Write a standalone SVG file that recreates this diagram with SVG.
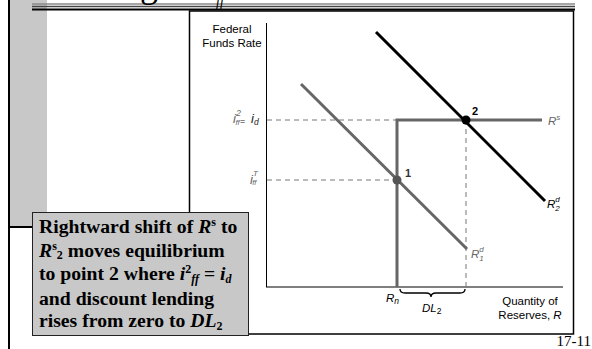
<svg xmlns="http://www.w3.org/2000/svg" width="592" height="349" viewBox="0 0 592 349">
<style>
.sans{font-family:"Liberation Sans",Arial,sans-serif;}
.serif{font-family:"Liberation Serif","Times New Roman",serif;}
.lab{font-size:11.5px;fill:#000;}
.glab{font-size:11.5px;fill:#666;font-style:italic;}
.call{font-size:19.7px;font-weight:bold;fill:#000;}
.dash{stroke:#777;stroke-width:1;stroke-dasharray:5,4;fill:none;}
</style>
<rect x="0" y="0" width="592" height="349" fill="#fff"/>
<g id="frame">
<rect x="10" y="0" width="37" height="227" fill="#c8c8c8"/>
<line x1="9" y1="0" x2="9" y2="349" stroke="#000" stroke-width="2"/>
<line x1="10" y1="227" x2="33" y2="227" stroke="#000" stroke-width="2"/>
<line x1="32" y1="4" x2="575" y2="4" stroke="#888" stroke-width="1.5"/>
<line x1="32" y1="6.5" x2="575" y2="6.5" stroke="#444" stroke-width="1.5"/>
<line x1="32" y1="9.5" x2="575" y2="9.5" stroke="#000" stroke-width="2"/>
<text class="serif" x="140" y="-3" font-size="36" fill="#000">g</text>
<text class="serif" x="216" y="6" font-size="14" font-style="italic" fill="#000">ff</text>
</g>
<g id="panel">
<rect x="189.5" y="11" width="384" height="323" fill="#fff" stroke="#000" stroke-width="1.5"/>
</g>
<g id="axes">
<line x1="266.5" y1="23" x2="266.5" y2="287" stroke="#000" stroke-width="1"/>
<line x1="266" y1="287" x2="563" y2="287" stroke="#000" stroke-width="1"/>
<text class="sans lab" x="232" y="33" text-anchor="middle">Federal</text>
<text class="sans lab" x="232" y="47" text-anchor="middle">Funds Rate</text>
<text class="sans lab" x="530" y="305" text-anchor="middle">Quantity of</text>
<text class="sans lab" x="530" y="319" text-anchor="middle">Reserves, <tspan font-style="italic">R</tspan></text>
</g>
<g id="connectors">
<line class="dash" x1="267" y1="120" x2="397" y2="120"/>
<line class="dash" x1="267" y1="180" x2="397" y2="180"/>
<line class="dash" x1="466" y1="120" x2="466" y2="287"/>
<path d="M400,289 Q400,293 405,293 L426,293 Q431,293 431,297 Q431,293 436,293 L460,293 Q465,293 465,289" fill="none" stroke="#000" stroke-width="1.3"/>
</g>
<g id="supply">
<path d="M397,287 L397,120 L542,120" fill="none" stroke="#666" stroke-width="3"/>
<text class="sans glab" x="548" y="125">R<tspan font-size="8" dy="-5">s</tspan></text>
</g>
<g id="demand1">
<line x1="301" y1="84" x2="467" y2="249" stroke="#666" stroke-width="3"/>
<text class="sans glab" x="471" y="258">R<tspan font-size="8" dy="-6">d</tspan><tspan font-size="8" dx="-4.5" dy="9">1</tspan></text>
</g>
<g id="demand2">
<line x1="376" y1="32" x2="545" y2="201" stroke="#000" stroke-width="3"/>
<text class="sans" font-size="11.5" font-style="italic" x="547" y="208">R<tspan font-size="8" dy="-6">d</tspan><tspan font-size="8" dx="-4.5" dy="9">2</tspan></text>
</g>
<g id="point1">
<circle cx="397" cy="180" r="4.5" fill="#555"/>
<text class="sans" font-size="11" font-weight="bold" x="405" y="177" fill="#333">1</text>
</g>
<g id="point2">
<circle cx="466" cy="120" r="4.5" fill="#000"/>
<text class="sans" font-size="11" font-weight="bold" x="472" y="115" fill="#000">2</text>
</g>
<g id="ylabels">
<text class="sans" font-size="13" x="233" y="123" fill="#666" font-style="italic">i<tspan font-size="9" dy="-7">2</tspan><tspan font-size="7.5" dx="-5.5" dy="9">ff</tspan><tspan font-size="9" dx="0.5" dy="-1" fill="#222" font-style="normal">=</tspan></text>
<text class="sans" font-size="13" x="251" y="123" fill="#222" font-style="italic">i<tspan font-size="8.5" dy="2">d</tspan></text>
<text class="sans" font-size="13" x="250" y="184" fill="#666" font-style="italic">i<tspan font-size="8" dy="-8">T</tspan><tspan font-size="7.5" dx="-5.5" dy="9">ff</tspan></text>
</g>
<g id="xlabels">
<text class="sans" font-size="11.5" font-style="italic" x="386" y="302" fill="#000">R<tspan font-size="8.5" dy="2">n</tspan></text>
<text class="sans" font-size="11.5" font-style="italic" x="422" y="312" fill="#000">DL<tspan font-size="8.5" font-style="normal" dy="2">2</tspan></text>
</g>
<g id="callout">
<rect x="32.5" y="212.5" width="216" height="123" fill="#c8c8c8" stroke="#222" stroke-width="1"/>
<text class="serif call" x="39" y="233">Rightward shift of <tspan font-style="italic">R</tspan><tspan font-size="12" dy="-7">s</tspan><tspan dy="7"> to</tspan></text>
<text class="serif call" x="39" y="257"><tspan font-style="italic">R</tspan><tspan font-size="12" dy="-7">s</tspan><tspan font-size="12" dy="9">2</tspan><tspan dy="-2"> moves equilibrium</tspan></text>
<text class="serif call" x="39" y="280">to point 2 where <tspan font-style="italic">i</tspan><tspan font-size="12" dy="-7">2</tspan><tspan font-size="12" font-style="italic" dy="10">ff</tspan><tspan dy="-3"> = </tspan><tspan font-style="italic">i</tspan><tspan font-size="12" font-style="italic" dy="3">d</tspan></text>
<text class="serif call" x="39" y="305">and discount lending</text>
<text class="serif call" x="39" y="327">rises from zero to <tspan font-style="italic">DL</tspan><tspan font-size="12" dy="3">2</tspan></text>
</g>
<g id="pagenum">
<text class="serif" font-size="15" x="591" y="346" text-anchor="end" fill="#000">17-11</text>
</g>
</svg>
